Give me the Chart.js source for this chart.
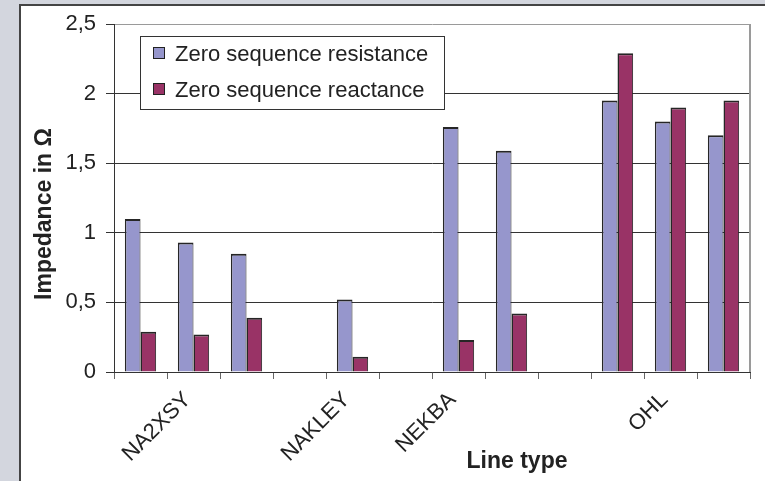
<!DOCTYPE html>
<html>
<head>
<meta charset="utf-8">
<script src="https://cdn.jsdelivr.net/npm/chart.js@4/dist/chart.umd.min.js"></script>
<style>
  html, body { margin: 0; padding: 0; background: #d3d6de; }
  canvas { display: block; }
</style>
</head>
<body>
<canvas id="impedanceChart" width="765" height="481"></canvas>
<script>
// Zero sequence impedance per line type
const categories = ['', 'NA2XSY', '', '', 'NAKLEY', '', 'NEKBA', '', '', '', 'OHL', ''];
const resistance = [1.1, 0.93, 0.85, null, 0.52, null, 1.76, 1.59, null, 1.95, 1.8, 1.7];
const reactance  = [0.29, 0.27, 0.39, null, 0.11, null, 0.23, 0.42, null, 2.29, 1.9, 1.95];
const seriesNames = ['Zero sequence resistance', 'Zero sequence reactance'];
const yMin = 0, yMax = 2.5, yStep = 0.5;

const FONT = '"Liberation Sans", Arial, sans-serif';

// background panel, plot frame, legend and axis titles
const decor = {
    id: 'decor',
    beforeDraw(chart) {
        const c = chart.ctx;
        c.save();
        c.fillStyle = '#d3d6de';
        c.fillRect(0, 0, chart.width, chart.height);
        c.fillStyle = '#ffffff';
        c.fillRect(20, 5, chart.width - 20, chart.height - 5);
        c.strokeStyle = '#444';
        c.lineWidth = 2;
        c.beginPath();
        c.moveTo(20, chart.height);
        c.lineTo(20, 5);
        c.lineTo(chart.width, 5);
        c.stroke();
        c.restore();
    },
    afterDraw(chart) {
        const c = chart.ctx;
        const a = chart.chartArea;
        c.save();
        // right border of plot area
        c.strokeStyle = '#9a9a9a';
        c.lineWidth = 2;
        c.beginPath();
        c.moveTo(a.right, a.top);
        c.lineTo(a.right, a.bottom);
        c.stroke();

        // legend
        c.fillStyle = '#fff';
        c.fillRect(140.5, 36.5, 304, 73);
        c.strokeStyle = '#333';
        c.lineWidth = 1;
        c.strokeRect(140.5, 36.5, 304, 73);
        c.font = '22px ' + FONT;
        c.textBaseline = 'middle';
        c.textAlign = 'left';
        chart.data.datasets.forEach((ds, i) => {
            const y = 54 + i * 36;
            c.fillStyle = ds.backgroundColor;
            c.fillRect(153.5, y - 6.5, 11, 11);
            c.strokeStyle = '#222';
            c.strokeRect(153.5, y - 6.5, 11, 11);
            c.fillStyle = '#222';
            c.fillText(ds.label, 175, y + 1);
        });

        // axis titles
        c.font = 'bold 23px ' + FONT;
        c.fillStyle = '#222';
        c.textAlign = 'center';
        c.textBaseline = 'alphabetic';
        c.fillText('Line type', 517, 468);
        c.translate(51, 214);
        c.rotate(-Math.PI / 2);
        c.fillText('Impedance in \u03A9', 0, 0);
        c.restore();
    }
};

const barBorder = { top: 2, left: 1.5, right: 1, bottom: 0 };

const ctx = document.getElementById('impedanceChart').getContext('2d');
new Chart(ctx, {
    type: 'bar',
    data: {
        labels: categories,
        datasets: [{
            label: seriesNames[0],
            data: resistance,
            backgroundColor: '#9696cc',
            borderColor: '#262626',
            borderWidth: barBorder
        }, {
            label: seriesNames[1],
            data: reactance,
            backgroundColor: '#993366',
            borderColor: '#262626',
            borderWidth: barBorder
        }]
    },
    options: {
        responsive: false,
        animation: false,
        categoryPercentage: 0.59,
        barPercentage: 1,
        layout: { padding: { left: 0, top: 24, right: 15, bottom: 0 } },
        plugins: {
            legend: { display: false },
            tooltip: { enabled: false }
        },
        scales: {
            x: {
                grid: { drawOnChartArea: false, tickLength: 7, color: '#666' },
                border: { color: '#333' },
                ticks: {
                    autoSkip: false,
                    maxRotation: 45,
                    minRotation: 45,
                    padding: 8,
                    labelOffset: -6,
                    color: '#222',
                    font: { family: FONT, size: 22 }
                },
                afterFit(scale) { scale.height = 109; }
            },
            y: {
                min: yMin,
                max: yMax,
                grid: {
                    tickLength: 8,
                    color: c => c.tick && c.tick.value === yMax ? '#9a9a9a' : '#333',
                    tickColor: '#333'
                },
                border: { color: '#333' },
                ticks: {
                    stepSize: yStep,
                    padding: 10,
                    color: '#222',
                    font: { family: FONT, size: 22 },
                    callback: v => String(v).replace('.', ',')
                },
                afterFit(scale) { scale.width = 114; }
            }
        }
    },
    plugins: [decor]
});
</script>
</body>
</html>
